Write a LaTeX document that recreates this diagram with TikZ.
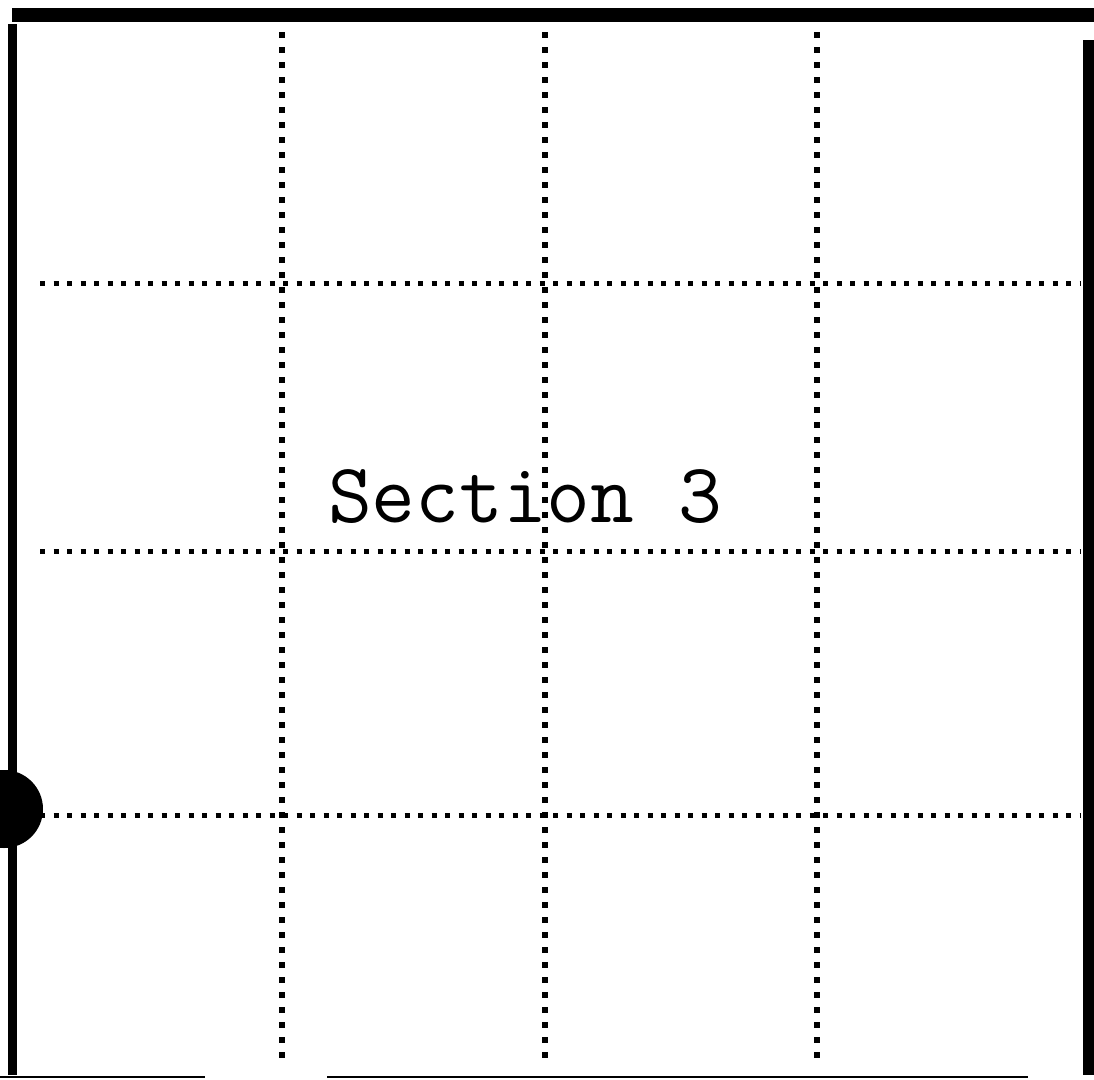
\documentclass[tikz,border=0pt]{standalone}
\begin{document}
\begin{tikzpicture}[x=1pt,y=-1pt]
		\useasboundingbox (0,0) rectangle (1094,1079);
		\draw[line width=14pt] (12,15) to (1094,15);%bord haut
		\draw[line width=9pt] (12,24) to (12,1075);%bord gauche
		\draw[line width=11pt] (1088,40) to (1088,1075);%bord droit
		\draw[line width=2pt] (0,1077) to (205,1077);%bord bas
		\draw[line width=2pt] (327,1077) to (1028,1077);
		\foreach \k in {282,545,817}{
			\draw[line width=6pt,dash pattern=on 6pt off 9pt] (\k,32) to (\k,1065);}
		\foreach \k in {283,551,815}{
			\draw[line width=5pt,dash pattern=on 5pt off 8.5pt] (40,\k) to (1080,\k);}
		\fill (4,809) circle (39pt);
		\node (sec) at (525,497) {\fontsize{85}{90}\selectfont\ttfamily Section 3};
	\end{tikzpicture}
\end{document}
